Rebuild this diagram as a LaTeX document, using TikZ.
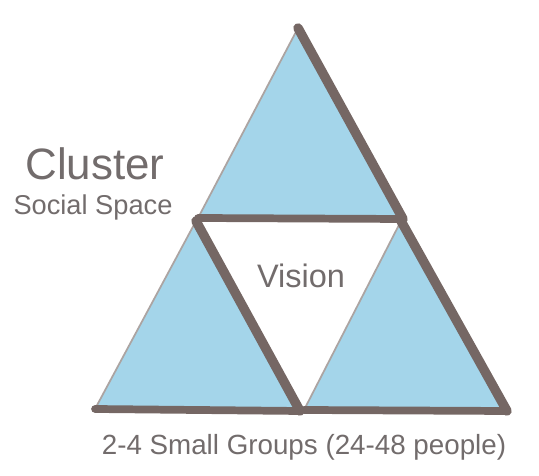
\documentclass[tikz,border=0pt]{standalone}
\usepackage{fontspec}
\setmainfont{Liberation Sans}
\usepackage{xcolor}
\definecolor{triBlue}{RGB}{164,213,234}
\definecolor{triBrown}{RGB}{117,103,100}
\definecolor{textGrey}{RGB}{114,108,108}

\begin{document}
\begin{tikzpicture}[x=0.02cm, y=-0.02cm, line join=round, line cap=round,
  lbl/.style={text=textGrey, inner sep=0pt, anchor=base},
  edgethin/.style={draw=triBrown!60, line width=1pt},
  edgeside/.style={draw=triBrown, line width=5.4pt},
  edgebase/.style={draw=triBrown, line width=4.4pt}]
\useasboundingbox (0,0) rectangle (539,476);
% corners
\coordinate (topA) at (298,28);
\coordinate (topL) at (198,218);
\coordinate (topR) at (403,219);
\coordinate (leftA) at (196,221);
\coordinate (leftL) at (95,409);
\coordinate (leftR) at (300,411);
\coordinate (rightA) at (401,221);
\coordinate (rightL) at (304,410);
\coordinate (rightR) at (507,411);
% triangles
\foreach \t in {top,left,right}{
  \fill[triBlue] (\t A) -- (\t L) -- (\t R) -- cycle;
  \draw[edgethin] (\t A) -- (\t L);
  \draw[edgebase] (\t L) -- (\t R);
  \draw[edgeside] (\t A) -- (\t R);
}
% labels
\node[lbl, font=\fontsize{25}{30}\selectfont] (cluster) at (95,180) {Cluster};
\node[lbl, font=\fontsize{15.5}{18}\selectfont] (social) at (93,215) {Social Space};
\node[lbl, font=\fontsize{18.5}{22}\selectfont] (vision) at (301,288) {Vision};
\node[lbl, font=\fontsize{15.8}{19}\selectfont] (groups) at (304,455) {2-4 Small Groups (24-48 people)};
\end{tikzpicture}
\end{document}
